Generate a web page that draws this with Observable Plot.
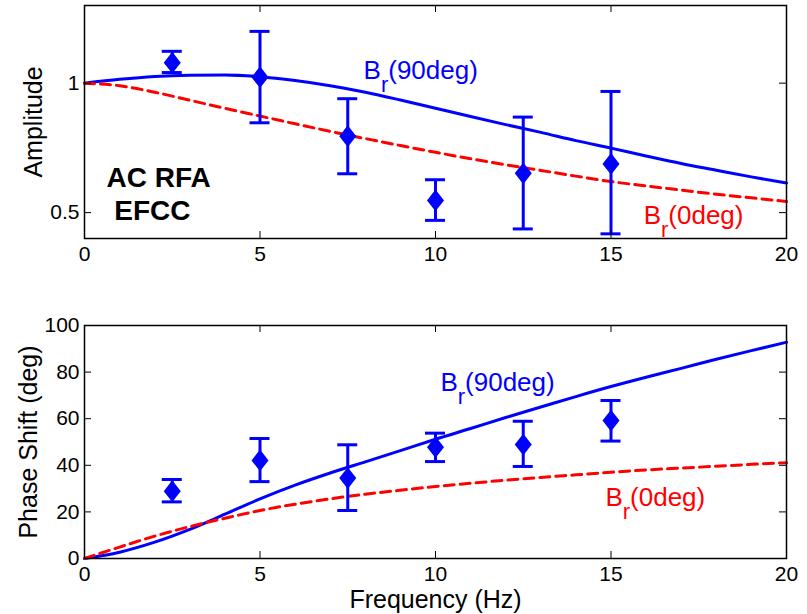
<!DOCTYPE html>
<html><head><meta charset="utf-8">
<script src="https://cdn.jsdelivr.net/npm/d3@7"></script>
<script src="https://cdn.jsdelivr.net/npm/@observablehq/plot@0.6"></script>
<style>
body{margin:0;background:#fff;}
#chart{width:807px;height:614px;}
#chart svg{display:block;}
</style></head><body><div id="chart"></div>
<script>
// measured points (frequency in Hz)
const freqMeas = [2.5, 5, 7.5, 10, 12.5, 15];
const ampMeas  = [1.079, 1.023, 0.795, 0.547, 0.652, 0.688];
const ampLo    = [1.041, 0.847, 0.650, 0.470, 0.437, 0.418];
const ampHi    = [1.123, 1.200, 0.940, 0.627, 0.869, 0.968];
const phaseMeas = [28.9, 42.1, 34.5, 47.8, 48.9, 59.2];
const phaseLo   = [24.3, 33.0, 20.6, 41.6, 39.5, 50.4];
const phaseHi   = [33.9, 51.5, 48.8, 53.8, 58.9, 67.8];

// model curves
const freqModel = [0,1,2,3,4,5,6,7,8,9,10,11,12,13,14,15,16,17,18,19,20];
const amp90   = [1.0,1.015,1.026,1.031,1.032,1.025,1.01,0.99,0.965,0.935,0.903,0.871,0.84,0.81,0.778,0.749,0.719,0.69,0.664,0.638,0.614];
const amp0    = [1.0,0.99,0.965,0.934,0.903,0.873,0.843,0.814,0.786,0.759,0.733,0.708,0.685,0.663,0.641,0.62,0.603,0.587,0.571,0.557,0.543];
const phase90 = [0,2.7,7,12.5,19,25.6,31.5,36.7,41.5,46.3,51.2,55.8,60.5,65,69.5,73.8,77.8,81.6,85.5,89.2,92.8];
const phase0  = [0,4.9,9.6,13.7,17.3,20.6,23.3,25.6,27.6,29.3,30.9,32.3,33.6,34.8,35.9,37.0,38.0,38.8,39.6,40.4,41.1];

// ticks
const xTicks = [0, 5, 10, 15, 20];
const ampTicks = [0.5, 1];
const phaseTicks = [0, 20, 40, 60, 80, 100];

// annotations
const ampLabels = [
  {x: 7.95, y: 1.017, text: "B(90deg)", color: "#0000ff"},
  {x: 15.93, y: 0.457, text: "B(0deg)", color: "#ff0000"}
];
const ampNotes = [
  {x: 0.63, y: 0.598, text: "AC RFA"},
  {x: 0.85, y: 0.470, text: "EFCC"}
];
const phaseLabels = [
  {x: 10.14, y: 72.1, text: "B(90deg)", color: "#0000ff"},
  {x: 14.84, y: 22.7, text: "B(0deg)", color: "#ff0000"}
];

const BLUE = "#0000ff", RED = "#ff0000";
const FONT = "'Liberation Sans', Arial, Helvetica, sans-serif";

const model = freqModel.map((f, i) => ({f, a90: amp90[i], a0: amp0[i], p90: phase90[i], p0: phase0[i]}));
const meas = freqMeas.map((f, i) => ({f, a: ampMeas[i], aLo: ampLo[i], aHi: ampHi[i], p: phaseMeas[i], pLo: phaseLo[i], pHi: phaseHi[i]}));

const diamond = {
  draw(ctx, size) {
    const r = Math.sqrt(size / Math.PI), h = r * 1.28;
    ctx.moveTo(0, -h); ctx.lineTo(r, 0); ctx.lineTo(0, h); ctx.lineTo(-r, 0); ctx.closePath();
  }
};

function panel({height, marginTop, marginBottom, yDomain, yTicks, yKey, yLo, yHi, m90, m0, labels, notes, yLabel, yLabelDx, xLabel}) {
  const W = 807, ML = 84, MR = 21;
  const frameW = W - ML - MR, frameH = height - marginTop - marginBottom;
  const marks = [
    Plot.line(model, {x: "f", y: m90, stroke: BLUE, strokeWidth: 3, curve: "monotone-x"}),
    Plot.line(model, {x: "f", y: m0, stroke: RED, strokeWidth: 3, strokeDasharray: "10,6", curve: "monotone-x"}),
    Plot.ruleX(meas, {x: "f", y1: yLo, y2: yHi, stroke: BLUE, strokeWidth: 3}),
    Plot.ruleY(meas, {x1: "f", x2: "f", y: yLo, stroke: BLUE, strokeWidth: 3, insetLeft: -10, insetRight: -10}),
    Plot.ruleY(meas, {x1: "f", x2: "f", y: yHi, stroke: BLUE, strokeWidth: 3, insetLeft: -10, insetRight: -10}),
    Plot.dot(meas, {x: "f", y: yKey, r: 8.5, symbol: diamond, fill: BLUE, stroke: "none"}),
    Plot.frame({stroke: "black", strokeWidth: 1.5}),
    // inward ticks on all four sides
    Plot.tickX(xTicks, {x: d => d, insetTop: frameH - 7, stroke: "black"}),
    Plot.tickX(xTicks, {x: d => d, insetBottom: frameH - 7, stroke: "black"}),
    Plot.tickY(yTicks, {y: d => d, insetRight: frameW - 7, stroke: "black"}),
    Plot.tickY(yTicks, {y: d => d, insetLeft: frameW - 7, stroke: "black"}),
    Plot.axisX(xTicks, {tickSize: 0, tickPadding: 8, label: null, tickFormat: d => `${d}`, fill: "black"}),
    Plot.axisY(yTicks, {tickSize: 0, tickPadding: 5, label: null, tickFormat: d => `${d}`, fill: "black"}),
    Plot.text(labels, {x: "x", y: "y", text: "text", fill: "color", textAnchor: "start", lineAnchor: "bottom", fontSize: 26}),
    Plot.text([yLabel], {text: d => d, frameAnchor: "left", textAnchor: "middle", rotate: -90, dx: yLabelDx, fontSize: 25, fill: "black", lineAnchor: "middle"})
  ];
  if (notes) marks.push(Plot.text(notes, {x: "x", y: "y", text: "text", textAnchor: "start", lineAnchor: "bottom", fontSize: 28, fontWeight: "bold", fill: "black"}));
  if (xLabel) marks.push(Plot.text([xLabel], {text: d => d, frameAnchor: "bottom", textAnchor: "middle", dy: 41, fontSize: 25, fill: "black", lineAnchor: "middle"}));
  const svg = Plot.plot({
    width: W, height, marginLeft: ML, marginRight: MR, marginTop, marginBottom,
    style: {fontFamily: FONT, fontSize: "21px", color: "black", background: "white", overflow: "visible"},
    x: {type: "linear", domain: [0, 20]},
    y: {type: "linear", domain: yDomain},
    color: {type: "identity"},
    marks
  });
  // subscript r in the B_r labels
  d3.select(svg).selectAll("text").filter(function() { return /^B\(\d+deg\)$/.test(this.textContent); })
    .each(function() {
      const rest = this.textContent.slice(1);
      const t = d3.select(this);
      t.text("B");
      t.append("tspan").attr("dy", 13).attr("font-size", 22).text("r");
      t.append("tspan").attr("dy", -13).text(rest);
    });
  return svg;
}

const topPanel = panel({
  height: 270, marginTop: 5, marginBottom: 32,
  yDomain: [0.4, 1.3], yTicks: ampTicks, yKey: "a", yLo: "aLo", yHi: "aHi",
  m90: "a90", m0: "a0", labels: ampLabels, notes: ampNotes,
  yLabel: "Amplitude", yLabelDx: -51
});
const bottomPanel = panel({
  height: 344, marginTop: 55, marginBottom: 56,
  yDomain: [0, 100], yTicks: phaseTicks, yKey: "p", yLo: "pLo", yHi: "pHi",
  m90: "p90", m0: "p0", labels: phaseLabels, notes: null,
  yLabel: "Phase Shift (deg)", yLabelDx: -56, xLabel: "Frequency (Hz)"
});
const chart = document.getElementById("chart");
chart.appendChild(topPanel);
chart.appendChild(bottomPanel);
</script>
</body></html>
